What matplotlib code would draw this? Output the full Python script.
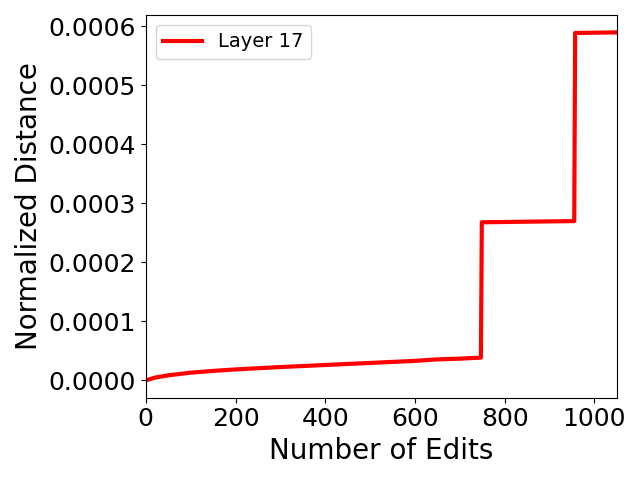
import matplotlib
matplotlib.use("Agg")
import matplotlib.pyplot as plt

# edit count vs normalized distance
edits = [0, 20, 50, 100, 150, 200, 300, 400, 500, 600, 650, 700, 747,
         749, 800, 900, 955, 957, 1000, 1050]
distance = [0.0, 0.0000045, 0.0000085, 0.0000130, 0.0000160, 0.0000185,
            0.0000225, 0.0000260, 0.0000295, 0.0000330, 0.0000355,
            0.0000368, 0.0000385,
            0.000268, 0.0002685, 0.0002695, 0.000270,
            0.000589, 0.0005895, 0.000590]

fig, ax = plt.subplots(figsize=(6.4, 4.8), dpi=100)
ax.plot(edits, distance, color="red", linewidth=3, label="Layer 17")
ax.set_xlim(0, edits[-1])
ax.set_xlabel("Number of Edits", fontsize=20)
ax.set_ylabel("Normalized Distance", fontsize=20)
ax.tick_params(labelsize=18)
ax.legend(loc="upper left", fontsize=14)
fig.tight_layout()
fig.savefig("out.png", dpi=100)
